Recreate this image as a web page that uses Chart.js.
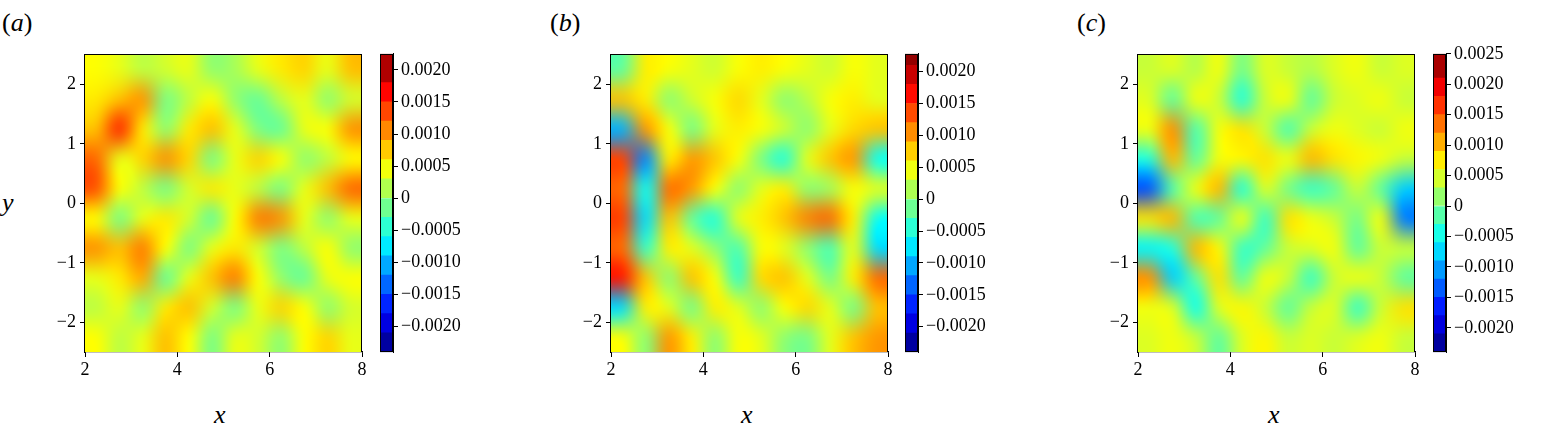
<!DOCTYPE html>
<html><head><meta charset="utf-8">
<script src="https://cdn.jsdelivr.net/npm/chart.js@4/dist/chart.umd.min.js"></script>
<style>
body{margin:0;background:#fff;width:1551px;height:438px;position:relative;overflow:hidden;font-family:"Liberation Serif",serif}
.c{position:absolute}
.t{position:absolute;font-size:26px;font-style:italic;font-family:"Liberation Serif",serif}
</style></head><body>
<script>
// grid cell centres
const xCenters=[2.25,2.75,3.25,3.75,4.25,4.75,5.25,5.75,6.25,6.75,7.25,7.75];
const yCenters=[2.25,1.75,1.25,0.75,0.25,-0.25,-0.75,-1.25,-1.75,-2.25];
// field values in units of 1e-4, rows top->bottom
const fieldA=[
[5,4,2,3,4,0,1,4,6,7,4,8],
[6,8,10,-1,2,5,0,-2,2,4,0,3],
[8,15,6,0,6,8,4,-1,-2,4,5,10],
[12,4,7,10,7,-1,4,7,5,0,2,5],
[13,5,2,-1,3,6,4,2,-1,4,8,12],
[5,-1,4,6,3,-2,5,11,10,4,0,4],
[10,8,11,5,-1,4,6,3,-1,2,5,0],
[4,6,9,-2,4,8,11,5,0,-2,4,5],
[2,4,0,6,8,3,-1,4,7,5,0,3],
[5,2,4,8,5,-1,4,3,0,5,7,4]];
const fieldB=[
[-2,6,5,4,3,5,6,5,4,3,5,4],
[8,6,0,3,5,7,4,0,2,5,6,4],
[-10,10,5,-1,4,6,5,3,0,4,7,8],
[14,-12,6,10,8,5,-1,-5,4,8,10,-6],
[12,-6,12,10,5,0,4,6,0,1,5,4],
[14,-8,8,-2,-5,4,6,8,11,12,6,-6],
[12,-4,6,4,0,-3,5,4,0,-3,4,-8],
[16,8,0,8,5,-4,7,8,4,-1,6,12],
[-8,6,4,-1,6,4,0,5,7,4,-1,8],
[5,0,10,6,0,5,4,0,-1,4,8,10]];
const fieldC=[
[4,5,3,6,0,5,4,3,5,6,4,5],
[5,-1,6,4,-4,4,6,-1,4,5,6,4],
[6,12,-2,6,8,4,-2,4,6,5,4,6],
[-4,10,-1,6,7,8,6,10,8,7,6,4],
[-14,-2,6,10,-4,5,0,-3,-1,4,-1,-8],
[8,10,-2,-1,6,-3,8,6,4,0,6,-12],
[-6,-4,10,7,-3,-1,4,5,6,-1,4,4],
[12,-8,-1,8,-1,6,4,-3,4,6,4,-1],
[6,5,-5,5,7,4,-1,4,5,-3,4,8],
[5,6,4,-1,5,7,4,5,4,5,6,4]];
const xTicks=[2,4,6,8];
const yTicks=[-2,-1,0,1,2];
const ticksA=[-0.0020,-0.0015,-0.0010,-0.0005,0,0.0005,0.0010,0.0015,0.0020];
const ticksB=[-0.0020,-0.0015,-0.0010,-0.0005,0,0.0005,0.0010,0.0015,0.0020];
const ticksC=[-0.0020,-0.0015,-0.0010,-0.0005,0,0.0005,0.0010,0.0015,0.0020,0.0025];
const levelsA=[-0.0024,-0.0021,-0.0018,-0.0015,-0.0012,-0.0009,-0.0006,-0.0003,0,0.0003,0.0006,0.0009,0.0012,0.0015,0.0018,0.00225];
const levelsB=[-0.0024,-0.0021,-0.0018,-0.0015,-0.0012,-0.0009,-0.0006,-0.0003,0,0.0003,0.0006,0.0009,0.0012,0.0015,0.0018,0.0021,0.00228];
const levelsC=[-0.0024,-0.0021,-0.0018,-0.0015,-0.0012,-0.0009,-0.0006,-0.0003,0,0.0003,0.0006,0.0009,0.0012,0.0015,0.0018,0.0021,0.0025];

function jet(t){t=Math.max(0,Math.min(1,t));
 const r=Math.max(0,Math.min(1,1.5-Math.abs(4*t-3)));
 const g=Math.max(0,Math.min(1,1.5-Math.abs(4*t-2)));
 const b=Math.max(0,Math.min(1,1.5-Math.abs(4*t-1)));
 return [Math.round(r*255),Math.round(g*255),Math.round(b*255)];}
const F="'Liberation Serif', serif";
function fmt(v){if(Math.abs(v)<1e-12)return '0';const s=Math.abs(v).toFixed(4);return v<0?'\u2212'+s:s;}

const fieldPlugin={id:'field',beforeDatasetsDraw(chart){
 const o=chart.options.plugins.field; if(!o)return;
 const f=o.data, nr=f.length, nc=f[0].length;
 const off=document.createElement('canvas');off.width=nc;off.height=nr;
 const oc=off.getContext('2d');const img=oc.createImageData(nc,nr);
 for(let i=0;i<nr;i++)for(let j=0;j<nc;j++){const v=f[i][j]*1e-4;
  const c=jet((v-o.vmin)/(o.vmax-o.vmin));const k=(i*nc+j)*4;
  img.data[k]=c[0];img.data[k+1]=c[1];img.data[k+2]=c[2];img.data[k+3]=255;}
 oc.putImageData(img,0,0);
 const xs=chart.scales.x, ys=chart.scales.y, ctx=chart.ctx;
 const dx=(xCenters[1]-xCenters[0])/2, dy=(yCenters[0]-yCenters[1])/2;
 const x0=xs.getPixelForValue(xCenters[0]-dx), x1=xs.getPixelForValue(xCenters[nc-1]+dx);
 const y0=ys.getPixelForValue(yCenters[0]+dy), y1=ys.getPixelForValue(yCenters[nr-1]-dy);
 ctx.save();ctx.imageSmoothingEnabled=true;ctx.imageSmoothingQuality='high';
 const tmp=document.createElement('canvas');tmp.width=nc+2;tmp.height=nr+2;
 const tc=tmp.getContext('2d');
 tc.drawImage(off,0,0,nc,nr,1,1,nc,nr);
 tc.drawImage(off,0,0,1,nr,0,1,1,nr);tc.drawImage(off,nc-1,0,1,nr,nc+1,1,1,nr);
 tc.drawImage(tmp,0,1,nc+2,1,0,0,nc+2,1);tc.drawImage(tmp,0,nr,nc+2,1,0,nr+1,nc+2,1);
 const cw=(x1-x0)/nc, ch=(y1-y0)/nr;
 ctx.beginPath();ctx.rect(chart.chartArea.left,chart.chartArea.top,chart.chartArea.width,chart.chartArea.height);ctx.clip();
 ctx.drawImage(tmp,0,0,nc+2,nr+2,x0-cw,y0-ch,x1-x0+2*cw,y1-y0+2*ch);
 ctx.restore();}};

function mkMain(left,field,vmin,vmax){
 const cv=document.createElement('canvas');const d=document.createElement('div');
 d.className='c';d.style.cssText=`left:${left-50}px;top:40px;width:345px;height:352px`;
 d.appendChild(cv);document.body.appendChild(d);
 const pts=[];field.forEach((r,i)=>r.forEach((v,j)=>pts.push({x:xCenters[j],y:yCenters[i],v:v})));
 new Chart(cv,{type:'scatter',data:{datasets:[{data:pts,pointRadius:0}]},plugins:[fieldPlugin],
 options:{responsive:true,maintainAspectRatio:false,animation:false,layout:{padding:{top:10,right:18,left:0,bottom:0}},
 plugins:{legend:{display:false},tooltip:{enabled:false},field:{data:field,vmin,vmax}},
 scales:{
  x:{type:'linear',min:2,max:8,afterFit:s=>{s.height=40},afterBuildTicks:s=>{s.ticks=xTicks.map(v=>({value:v}))},
   grid:{drawOnChartArea:false,tickLength:5,color:'#000'},border:{color:'#000',width:1.2},
   ticks:{color:'#000',font:{family:F,size:18},padding:2,maxRotation:0}},
  y:{type:'linear',min:-2.5,max:2.5,afterFit:s=>{s.width=50},afterBuildTicks:s=>{s.ticks=yTicks.map(v=>({value:v}))},
   grid:{drawOnChartArea:false,tickLength:5,color:'#000'},border:{color:'#000',width:1.2},
   ticks:{color:'#000',font:{family:F,size:18},padding:4,callback:v=>v<0?'\u2212'+Math.abs(v):String(v)}}
 }}});
 const fr=document.createElement('div');fr.className='c';
 fr.style.cssText=`left:${left}px;top:54px;width:277px;height:298px;border-top:1.2px solid #000;border-right:1.2px solid #000;box-sizing:border-box;pointer-events:none`;
 document.body.appendChild(fr);
}
function mkBar(left,levels,ticks){
 const cv=document.createElement('canvas');const d=document.createElement('div');
 d.className='c';d.style.cssText=`left:${left}px;top:40px;width:100px;height:326px`;
 d.appendChild(cv);document.body.appendChild(d);
 const vmin=levels[0],vmax=levels[levels.length-1];
 const ds=[];for(let i=0;i<levels.length-1;i++){const m=(levels[i]+levels[i+1])/2;const c=jet((m-vmin)/(vmax-vmin));
  ds.push({data:[[levels[i],levels[i+1]]],backgroundColor:`rgb(${c[0]},${c[1]},${c[2]})`,borderWidth:0,barPercentage:1,categoryPercentage:1,grouped:false});}
 new Chart(cv,{type:'bar',data:{labels:['c'],datasets:ds},
 options:{responsive:true,maintainAspectRatio:false,animation:false,layout:{padding:{top:10,bottom:10,left:0,right:0}},
  plugins:{legend:{display:false},tooltip:{enabled:false}},
  scales:{x:{display:false,afterFit:s=>{s.height=0}},
   y:{position:'right',min:vmin,max:vmax,afterFit:s=>{s.width=87},afterBuildTicks:s=>{s.ticks=ticks.map(v=>({value:v}))},
    grid:{drawOnChartArea:false,tickLength:5,color:'#000'},border:{color:'#000'},
    ticks:{color:'#000',font:{family:F,size:18},padding:3,callback:v=>fmt(v)}}}}});
 const fr=document.createElement('div');fr.className='c';
 fr.style.cssText=`left:${left}px;top:54px;width:13px;height:298px;border:1px solid #000;box-sizing:border-box;pointer-events:none`;
 document.body.appendChild(fr);
 return [vmin,vmax];
}
const rA=mkBar(380,levelsA,ticksA), rB=mkBar(905,levelsB,ticksB), rC=mkBar(1433,levelsC,ticksC);
mkMain(85,fieldA,rA[0],rA[1]);mkMain(611,fieldB,rB[0],rB[1]);mkMain(1138,fieldC,rC[0],rC[1]);
function txt(s,x,y){const e=document.createElement('div');e.className='t';e.style.left=x+'px';e.style.top=y+'px';e.innerHTML=s;document.body.appendChild(e);return e;}
txt('(<i>a</i>)',2,8).style.fontStyle='normal';txt('(<i>b</i>)',550,8).style.fontStyle='normal';txt('(<i>c</i>)',1077,8).style.fontStyle='normal';
txt('y',2,188);txt('x',214,400);txt('x',741,400);txt('x',1268,400);
</script></body></html>
